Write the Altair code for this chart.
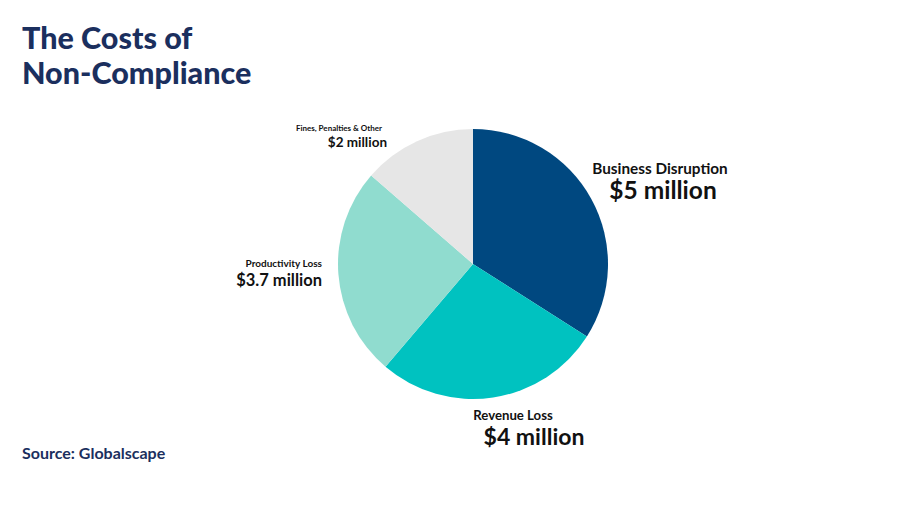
import altair as alt
import pandas as pd

categories = ["Business Disruption", "Revenue Loss", "Productivity Loss", "Fines, Penalties & Other"]
values = [5.0, 4.0, 3.7, 2.0]
value_labels = ["$5 million", "$4 million", "$3.7 million", "$2 million"]
colors = ["#004880", "#00C2C0", "#90DCCF", "#E6E6E6"]

title_lines = ["The Costs of", "Non-Compliance"]
source_text = "Source: Globalscape"

NAVY = "#1B2F5E"
FONT = "Lato"

df = pd.DataFrame({"category": categories, "value": values, "order": list(range(len(categories)))})

pie = alt.Chart(df).mark_arc(outerRadius=135, strokeWidth=0).encode(
    theta=alt.Theta("value:Q", stack=True),
    order=alt.Order("order:Q"),
    color=alt.Color("category:N", scale=alt.Scale(domain=categories, range=colors), legend=None),
    x=alt.value(465),
    y=alt.value(256),
)

def txt(s, x, y, size, weight="bold", align="left", color="#111111", baseline="middle"):
    return alt.Chart(pd.DataFrame({"t": [s]})).mark_text(
        align=align, baseline=baseline, fontSize=size, fontWeight=weight, font=FONT, color=color
    ).encode(text="t:N", x=alt.value(x), y=alt.value(y))

layers = [pie]
# Title
layers.append(txt(title_lines[0], 14, 40.5, 30.5, weight=900, color=NAVY, baseline="alphabetic"))
layers.append(txt(title_lines[1], 14, 75.5, 30.5, weight=900, color=NAVY, baseline="alphabetic"))
# Labels
layers.append(txt(categories[0], 652, 160.5, 15.3, weight="bold", align="center"))
layers.append(txt(value_labels[0], 655, 183.5, 24.5, weight="bold", align="center"))
layers.append(txt(categories[1], 505, 407.5, 13.2, weight="bold", align="center"))
layers.append(txt(value_labels[1], 526, 429.5, 23, weight="bold", align="center"))
layers.append(txt(categories[2], 314, 256, 10, weight="bold", align="right"))
layers.append(txt(value_labels[2], 314, 273, 16.5, weight="bold", align="right"))
layers.append(txt(categories[3], 374, 121, 8, weight="bold", align="right"))
layers.append(txt(value_labels[3], 379, 135, 13.5, weight="bold", align="right"))
# Source
layers.append(txt(source_text, 14, 446, 16, weight="bold", color=NAVY))

chart = alt.layer(*layers).properties(
    width=870, height=485, autosize=alt.AutoSizeParams(type="none"), padding=0,
    background="white"
).configure_view(strokeWidth=0, stroke="transparent")

chart.save("out.html", embed_options={"renderer": "svg", "actions": False})
